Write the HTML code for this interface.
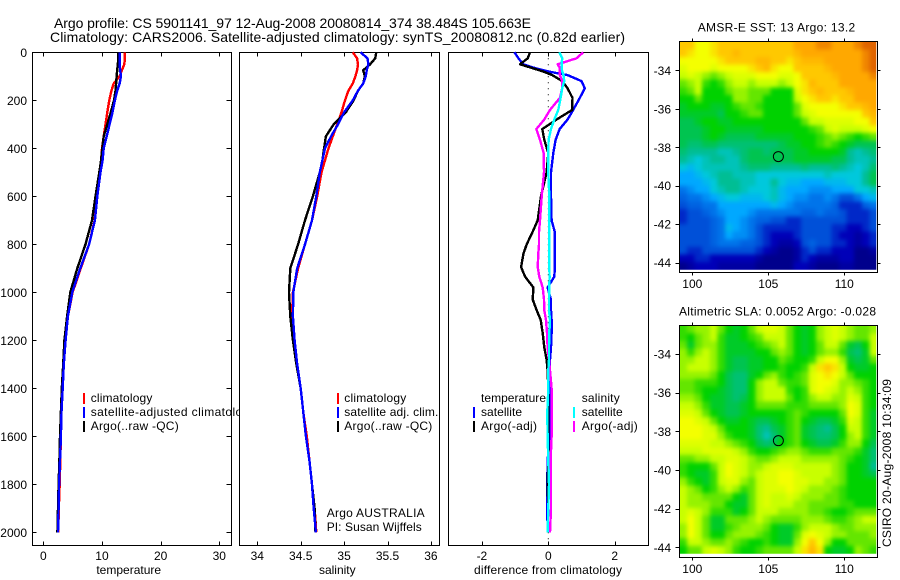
<!DOCTYPE html>
<html lang="en">
<head>
<meta charset="utf-8">
<title>Argo profile 5901141</title>
<style>
html,body{margin:0;padding:0;background:#fff;width:900px;height:580px;overflow:hidden}
svg{display:block}
text{font-family:"Liberation Sans",sans-serif;font-size:12px;fill:#000}
.ttl{font-size:14px}
</style>
</head>
<body>
<svg id="chart" xmlns="http://www.w3.org/2000/svg" width="900" height="580" viewBox="0 0 900 580">
  <defs>
    <filter id="soft1" filterUnits="userSpaceOnUse" x="655" y="20" width="245" height="275" color-interpolation-filters="sRGB"><feGaussianBlur stdDeviation="2"/></filter>
    <filter id="soft2" filterUnits="userSpaceOnUse" x="655" y="305" width="245" height="275" color-interpolation-filters="sRGB"><feGaussianBlur stdDeviation="2"/></filter>
    <clipPath id="clip1"><rect x="679.3" y="41.7" width="197" height="228"/></clipPath>
    <clipPath id="clip2"><rect x="679.3" y="325.7" width="197" height="228"/></clipPath>
  </defs>
  <rect x="0" y="0" width="900" height="580" fill="#fff"/>
  <text class="ttl" x="54" y="28" textLength="477" lengthAdjust="spacing">Argo profile: CS 5901141_97 12-Aug-2008 20080814_374 38.484S 105.663E</text>
  <text class="ttl" x="50" y="42" textLength="575" lengthAdjust="spacing">Climatology: CARS2006. Satellite-adjusted climatology: synTS_20080812.nc (0.82d earlier)</text>

  <g>
    <rect x="32.5" y="52.5" width="199" height="493" fill="#fff" stroke="#000" stroke-width="1"/>
    <g id="p1"></g>
    <g>
      <rect x="83" y="393" width="2" height="11" fill="#f00"/>
      <rect x="83" y="407" width="2" height="11" fill="#00f"/>
      <rect x="83" y="421" width="2" height="11" fill="#000"/>
      <text x="90.7" y="402" textLength="61.7">climatology</text>
      <text x="90.7" y="416" textLength="165">satellite-adjusted climatology</text>
      <text x="90.7" y="430" textLength="88">Argo(..raw -QC)</text>
    </g>
    <text x="128.7" y="574" text-anchor="middle">temperature</text>
  </g>

  <g>
    <rect x="239.5" y="52.5" width="200" height="493" fill="#fff" stroke="#000" stroke-width="1"/>
    <g id="p2"></g>
    <g>
      <rect x="337" y="393" width="2" height="11" fill="#f00"/>
      <rect x="337" y="407" width="2" height="11" fill="#00f"/>
      <rect x="337" y="421" width="2" height="11" fill="#000"/>
      <text x="344.3" y="402" textLength="62">climatology</text>
      <text x="344.3" y="416" textLength="94">satellite adj. clim.</text>
      <text x="344.3" y="430" textLength="88">Argo(..raw -QC)</text>
    </g>
    <text x="326.7" y="517" textLength="98">Argo AUSTRALIA</text>
    <text x="326.7" y="531" textLength="95">PI: Susan Wijffels</text>
    <text x="337.3" y="574" text-anchor="middle">salinity</text>
  </g>

  <g>
    <rect x="448.5" y="52.5" width="200" height="493" fill="#fff" stroke="#000" stroke-width="1"/>
    <g id="p3"></g>
    <g>
      <text x="481" y="402" textLength="65">temperature</text>
      <rect x="473" y="407" width="2" height="11" fill="#00f"/>
      <rect x="473" y="421" width="2" height="11" fill="#000"/>
      <text x="481" y="416" textLength="41">satellite</text>
      <text x="481" y="430" textLength="56">Argo(-adj)</text>
      <text x="581.7" y="402" textLength="38">salinity</text>
      <rect x="573" y="407" width="2" height="11" fill="#0ff"/>
      <rect x="573" y="421" width="2" height="11" fill="#f0f"/>
      <text x="581.7" y="416" textLength="41">satellite</text>
      <text x="581.7" y="430" textLength="56">Argo(-adj)</text>
    </g>
    <text x="548" y="574" text-anchor="middle" textLength="148">difference from climatology</text>
  </g>

  <g>
    <text x="697.7" y="31.5" textLength="157.5">AMSR-E SST: 13 Argo: 13.2</text>
    <g id="m1"></g>
  </g>
  <g>
    <text x="679" y="315.5" textLength="197">Altimetric SLA: 0.0052 Argo: -0.028</text>
    <g id="m2"></g>
  </g>
  <text transform="translate(891,547) rotate(-90)" x="0" y="0" textLength="168">CSIRO 20-Aug-2008 10:34:09</text>
</svg>

<script>
// ---------- profile data ----------
const depths = [0,25,50,75,100,130,160,200,250,300,350,400,450,500,600,700,800,900,1000,1100,1200,1300,1400,1500,1600,1700,1800,1900,2000];
const tempClimatology = [13.9,13.9,13.8,13.4,13.0,12.0,11.6,11.25,10.9,10.6,10.3,10.0,9.85,9.65,9.2,8.75,7.8,6.4,5.0,4.2,3.7,3.45,3.25,3.1,3.0,2.9,2.8,2.65,2.55];
const tempSatellite = [13.0,13.0,13.0,13.1,13.25,13.0,12.6,12.2,11.8,11.3,10.8,10.3,10.1,9.75,9.2,8.8,7.8,6.3,4.95,4.2,3.8,3.5,3.3,3.1,3.0,2.85,2.7,2.6,2.5];
const tempArgo = [12.8,12.8,12.7,12.6,12.5,12.4,12.3,12.05,11.5,10.9,10.3,10.05,9.85,9.55,8.9,8.3,7.2,5.8,4.6,4.05,3.6,3.4,3.15,3.0,2.85,2.75,2.6,2.5,2.4];
const salClimatology = [35.1,35.15,35.16,35.15,35.13,35.1,35.05,35.01,34.97,34.92,34.87,34.82,34.78,34.74,34.69,34.63,34.55,34.47,34.41,34.4,34.43,34.46,34.5,34.53,34.57,34.6,34.63,34.66,34.68];
const salSatellite = [35.19,35.27,35.28,35.26,35.25,35.22,35.16,35.1,35.0,34.93,34.85,34.78,34.75,34.72,34.68,34.63,34.55,34.46,34.415,34.41,34.43,34.46,34.5,34.53,34.56,34.6,34.63,34.65,34.675];
const salArgo = [35.37,35.36,35.3,35.22,35.24,35.22,35.16,35.11,35.02,34.88,34.79,34.77,34.75,34.72,34.64,34.55,34.47,34.38,34.365,34.38,34.41,34.45,34.5,34.53,34.56,34.6,34.63,34.66,34.67];

const diffDepths = [0,25,50,65,80,95,120,150,190,240,280,320,365,420,500,600,700,750,800,840,895,935,980,1030,1075,1115,1170,1230,1280,1325,1400,1500,1600,1700,1800,1900,2000];
const diffTempSatellite = [-1.02,-.9,-.75,-.42,0,.58,1.0,1.1,.95,.75,.58,.34,.22,.15,.08,.08,.1,.2,.2,.2,.2,.18,-.02,.08,.08,.1,.1,.08,.05,.05,.05,.07,.05,-.02,-.03,-.03,-.02];
const diffTempArgo = [-.55,-.62,-.85,-.5,-.15,.12,.42,.58,.73,.72,.25,-.18,-.12,0,-.05,-.22,-.32,-.48,-.65,-.75,-.82,-.7,-.45,-.47,-.35,-.23,-.17,-.12,-.05,-.02,0,0,0,0,-.02,0,-.02];
const diffSalArgo = [1.05,.85,.28,.35,.35,.35,.42,.42,.35,.05,-.12,-.36,-.25,-.14,-.13,-.2,-.25,-.28,-.28,-.3,-.32,-.27,-.17,-.13,-.12,-.07,-.04,-.02,.02,.05,.1,.1,.1,.07,.08,.08,.05];
const diffSalSatellite = [.33,.42,.4,.4,.42,.46,.48,.42,.37,.3,.18,.08,.01,0,0,.03,.03,.03,.03,.03,.03,.04,.03,.02,.02,.05,.03,.02,.02,0,0,-.03,-.02,0,.02,0,-.02];

// ---------- tick labels ----------
const depthTicks = [0,200,400,600,800,1000,1200,1400,1600,1800,2000];
const tempTicks = [0,10,20,30];
const salTicks = [34,34.5,35,35.5,36];
const diffTicks = [-2,0,2];
const lonTicks = [100,105,110];
const latTicks = [-34,-36,-38,-40,-42,-44];
const floatLon = 105.663;
const floatLat = -38.484;

// ---------- map colour level per grid cell (0 dark blue ... 14 dark orange) ----------
const colourStops = ['#00008c','#0000b8','#0050d8','#0074ea','#00a8ff','#00c8dc','#00be94','#00c450','#00d200','#64e600','#c8ff00','#f4ff00','#ffc800','#ffa800','#e06400'];
const sstGrid = [
[12,12,11,11,11.5,12,12,12,12,12,12,12,12,12,12,13,13,13,13.5,13.5,13,13,13,13.5,14,14],
[12,11.5,11,11,11.5,12,12,12.5,12,12,12,12,12,12,12,12.5,13,13,13,13,13,13,13,13,13.5,14],
[11,11,11,11,11,11.5,12,12,12,12,12.5,12.5,12,12,11.5,12,12.5,12.5,12.5,13,13,13,13,13,13.5,14],
[10.5,11,11,11,10.5,11,11,11,11,11.5,12,12.5,11.5,11,11,12,12,12,12,12.5,13,13,13,13,13.5,14],
[10,10.5,10,9.5,9,9.5,10,10.5,10.5,10.5,11,11,11,10.5,10.5,11,12,12,12,12,12.5,13,13,13,13,13.5],
[9,9.5,10,8.5,8,8.5,9.5,10,10,9.5,10,10,10,9.5,10,11,11.5,12.5,12,12,12,13,13,13,13,13],
[8.5,9,10,8,8,8,9,9.5,9.5,9,9,9,8,8,8,10.5,11.5,12,12.5,12,12,12,12.5,13,13,13],
[8,8,9,8,8,8,8,9.5,9.5,9,9,8,8,8,8,10,11,11.5,12,12,11.5,12,12,13,13,13],
[7.5,8,8,8,7.5,7.5,8,8.5,9,9,8.5,8,8,8,8,9,10.5,11,11,11,11,11.5,12,12,12.5,13],
[7.5,7.5,7.5,7.5,7.5,7,8,8,8.5,9,9,8,8,8,8,9,10,10.5,11,11,11,11,11,11,12,12.5],
[7,7,7.5,8,8,7.5,7.5,8,8,8,8,8,8,8,8,8,9,10,10,10.5,10.5,10.5,10.5,11,11,12],
[7,7,7,7.5,8,8,7.5,7.5,7.5,7.5,7.5,8,8,8,8,8,8,8.5,9,10,10.5,10,10,10,10.5,11],
[7,7,7,7.5,8,7.5,7,7,7,7,7.5,7.5,7.5,7.5,7.5,8,8,8,8.5,9,9.5,9,8.5,8,8.5,9],
[7,6.5,6.5,7,7,6.5,6.5,6.5,6.5,6.5,6.5,6.5,6.5,7,7.5,7.5,8,8,8.5,9,8.5,8,7.5,7,7,7],
[6.5,6,6,6,6,5.5,5.5,6,6.5,7,7,6.5,7,7,7,7.5,7.5,8,8,8,8,7.5,6,5.5,6,6.5],
[6,5.5,5,5.5,6,6,5.5,5.5,6.5,7,7,7,7,7,7,7.5,7.5,7.5,7.5,7.5,7,7,6,5.5,5.5,6],
[5,4.5,5,5.5,5.5,5.5,5.5,5.5,6,6.5,6.5,6.5,6,6,6,6,6.5,6,6,6,6.5,6,5.5,5,5.5,6.5],
[4,4,4.5,5,5.5,6,6,5.5,5.5,5.5,5,5,5,5,5,5,5,5,5,5.5,5,5,5,5,6,7],
[4,4,4,4.5,5,6,6,6,5.5,5.5,5,5,6,5,4.5,4.5,4,4,4,4.5,4.5,4.5,5,5,6,7],
[3,3.5,4,4,5,5.5,6,6,5.5,5,5,5,5.5,4.5,4,4,4,3.5,3.5,3.5,4,4,4,5,5,5.5],
[2.5,3,3,3.5,4,4.5,5,5,4.5,4.5,4.5,5,5.5,4.5,4,3.5,3.5,3,3,3.5,3,2,2,3,4,4.5],
[2,2.5,2.5,3,3,4,4,4,4,4,4,4,4.5,4,3.5,3,3,3,3,3,2.5,1.5,1.5,1.5,2.5,3],
[1.5,2,2,2.5,3,3.5,4,4,4,3.5,3,3,3,3,3,3,2.5,2.5,3,2.5,2.5,2,1.5,1.5,1.5,2],
[1.5,2,2,2,2.5,3,4,4,3.5,3,2.5,2.5,2,2,1.5,1.5,2,2,2,2,2,2,1.5,1.5,1.5,2],
[2,2,2,2,2.5,3,4.5,4,3.5,3,2,1.5,1.5,1.5,1.5,1.5,2,2,2,2,1.5,1.5,1,1,1.5,2],
[2,2,2,2,2.5,3,4,3.5,3.5,3,2,1.5,1,1,1,1.5,2,2,2,2,1.5,1,1,.5,1,1.5],
[2,2,2,2,2.5,3,3,3,2.5,2.5,2,1.5,1,.5,.5,1,2,2.5,2,2,1.5,1.5,1,.5,1,1.5],
[2,1.5,1.5,2,2,2,2,2,2,2,1.5,1,.5,0,0,.5,1.5,2,1.5,1.5,1,1,1,0,0,.5],
[1,1,1.5,1.5,1,1,1,1,1,1,.5,0,0,0,0,.5,1.5,1,.5,.5,.5,1,1,0,0,0],
[0,.5,1,1,1,.5,.5,.5,.5,.5,0,0,0,0,0,1,1,.5,0,0,0,.5,.5,0,0,0]
];
const slaGrid = [
[8.5,9,9.5,9.5,10,9,8,7.5,8,9,10,10.5,10.5,10,9,8,7.5,8,9.5,10,10.5,10,9.5,9,9,9.5],
[8.5,8,9,9.5,10,8.5,7.5,7.5,8,8.5,9,10,10,10,9,8,7.5,8,9.5,10,10.5,10,9.5,9,9,10],
[9,7.5,9,9.5,9.5,8.5,7.5,7.5,7.5,8,8.5,9,9.5,10,9,8,7.5,8,9,10,10,9,7.5,7,8,10],
[9.5,8.5,9.5,10,9.5,8.5,7.5,7.5,7.5,7.5,8,8,9,9.5,9,8,7.5,8,9,9.5,9.5,8.5,7,6.5,7.5,10],
[9.5,9.5,10,10,9.5,8.5,7.5,7,7,7.5,7.5,8,8,9,8.5,8,8,8.5,10,11,11,9.5,7.5,7,7.5,9],
[9.5,10,10,10,9.5,8.5,7.5,7,7,7.5,7.5,8,8,8.5,8,8,8.5,10,11.5,12,11.5,10,8,7.5,7.5,8],
[9.5,9.5,9.5,9.5,9,8,7,6.5,6.5,7.5,8,9,9.5,8.5,8,8.5,9,10.5,11,11.5,11,10,9,8,8,8],
[9,9,8.5,8.5,8.5,8,7,6.5,6.5,8,9.5,10,10,9,8.5,8.5,9,10.5,11,11,10.5,9.5,9.5,9,8.5,8],
[9,9,8.5,8,8,7.5,7,6.5,6.5,8,9.5,10,10,10,8.5,8,8.5,10.5,11,10.5,10,9.5,10,9.5,8.5,8],
[9.5,9.5,9,8,7.5,7.5,7,6.5,7,8,9.5,10,10,10,9,8,8.5,9.5,10,10,9.5,9.5,10.5,10,8.5,8],
[10,10,9.5,8.5,7.5,7.5,7,7,7.5,8,9,9,9,9,8.5,8.5,8.5,9,9,9,9,9.5,11,10.5,8.5,8],
[10.5,10.5,10,9,8,7.5,7,7,7.5,8,8,8,8,8,8.5,9,8.5,8,8,8,8,9,11,10.5,8.5,7.5],
[11,11,10.5,10,9,8,7.5,7.5,8,7.5,7,7,7.5,8,8.5,9,8,7.5,7,7,7.5,8.5,10.5,10,8.5,7.5],
[11,11,11,10.5,10,9,8,8,8,7.5,6.5,6,7,7.5,8.5,9,7.5,7,6.5,6,7,8,10,10,8.5,7.5],
[11,11,11,10.5,10.5,9.5,8.5,8,8,7.5,6.5,5.5,6.5,7.5,8.5,9,7.5,7,6.5,6.5,7,8,9.5,10,8.5,7.5],
[10.5,10.5,10.5,10.5,10,10,9.5,9,8.5,8,7,6.5,7,8,8.5,9,8,7.5,7,7,7.5,8.5,9.5,9.5,8,7],
[10,10,10,10.5,10.5,10.5,10.5,10,9.5,8.5,8,8,8.5,9,9.5,9.5,9,8.5,8.5,8.5,9,9,9,8.5,7.5,6.5],
[9,9,9.5,9.5,10,10,10.5,10.5,10,9.5,9,9,9.5,10,10,10,9.5,9.5,9.5,9.5,9.5,9,8.5,8,7.5,6.5],
[8.5,8,8,8,9,10,11,10.5,10,9.5,9.5,10,10.5,10.5,10.5,10,10,10,10,10,9.5,9,8,8,7.5,6],
[8.5,8,7.5,7.5,8.5,10,11,10.5,10,9.5,10,10.5,10.5,11,11,10.5,10,10,10,10,9.5,9,8,8,7.5,7],
[9.5,8.5,8,7.5,8.5,10,10.5,10.5,9.5,9,10,10.5,10.5,11,11,10.5,10.5,10,10,9.5,9.5,9,8,8,8,8],
[10,9.5,9,8,8.5,9.5,10,9.5,8.5,9,10,10.5,10.5,10.5,11,10.5,10,9.5,9.5,9.5,9,8.5,8,8,8,8],
[10,9.5,9.5,9,9,9,9,8,7.5,9,10,10.5,10,10,10.5,10,9.5,9.5,9.5,9,9,8.5,8,8,8,8],
[10,9.5,9.5,9.5,9,9,8,7.5,7.5,9,10,10.5,10,10,10,9.5,9.5,9,9,9,9,8.5,8.5,8,8,8],
[10,10.5,10,9.5,8.5,8.5,8.5,7.5,8,9,10,10,10,9.5,9.5,9.5,9.5,9,9,8.5,8,8,8.5,9,9,9],
[10,11,10,9,7.5,7.5,9,9,9,9.5,10,9.5,9,9,9,9,9.5,9.5,9.5,9,8.5,8.5,9,9.5,10,10],
[9.5,11,10,9,7.5,7.5,8.5,9,9.5,9.5,9.5,9,8,7.5,7.5,8.5,9.5,10,10,10,9.5,9,9,9.5,9.5,9.5],
[9.5,11,10,9,8,8,9,9.5,9.5,9.5,9,8.5,8,7.5,7.5,9,10.5,11,10.5,10,9.5,9.5,9,9,9,9.5],
[8.5,10,10,9.5,9,9,9.5,9,8.5,8,8,8.5,8,7.5,7.5,9.5,11,12,11,9.5,8,8,9,9,9,9],
[8,9,9,10,10.5,10,9.5,8.5,8,8,8.5,9,9,9,9,10,11.5,12.5,11.5,8,7.5,7.5,8,9.5,9,8.5]
];

// ---------- helpers ----------
const NS = 'http://www.w3.org/2000/svg';
function mk(parent, tag, props, txt) {
  const el = document.createElementNS(NS, tag);
  for (const k in props) el.setAttribute(k, props[k]);
  if (txt !== undefined) el.textContent = txt;
  parent.appendChild(el);
  return el;
}
function depthY(d) { return 52.3 + 0.24 * d; }
function tempX(v) { return 43.3 + 5.867 * v; }
function salX(v) { return 257.3 + 86.8 * (v - 34); }
function diffX(v) { return 548.3 + 33.2 * v; }

function drawProfile(parent, name, xs, ds, scale, colour) {
  const pts = xs.map((v, i) => scale(v).toFixed(1) + ',' + depthY(ds[i]).toFixed(1)).join(' ');
  const el = mk(parent, 'polyline', {points: pts, fill: 'none', stroke: colour, 'stroke-width': 2.4, 'shape-rendering': 'crispEdges', 'stroke-linejoin': 'round'});
  
  
}
function drawXTicks(parent, ticks, scale, top, bottom) {
  ticks.forEach(t => {
    const x = Math.round(scale(t)) + 0.5;
    const a = mk(parent, 'line', {x1: x, x2: x, y1: top, y2: top + 4, stroke: '#000'});
    
    
    const b = mk(parent, 'line', {x1: x, x2: x, y1: bottom - 4, y2: bottom, stroke: '#000'});
    
    
    const l = mk(parent, 'text', {x: scale(t), y: 560, 'text-anchor': 'middle'}, String(t));
    
    
  });
}

// ---------- temperature panel ----------
const p1 = document.getElementById('p1');
depthTicks.forEach(d => {
  const y = Math.round(depthY(d)) + 0.5;
  const a = mk(p1, 'line', {x1: 32.5, x2: 36.5, y1: y, y2: y, stroke: '#000'});
  
  
  const b = mk(p1, 'line', {x1: 226.5, x2: 231.5, y1: y, y2: y, stroke: '#000'});
  
  
  const l = mk(p1, 'text', {x: 27, y: depthY(d) + 4.5, 'text-anchor': 'end'}, String(d));
  
  
});
drawXTicks(p1, tempTicks, tempX, 52.5, 545.5);
drawProfile(p1, 'temperature-climatology-line', tempClimatology, depths, tempX, '#f00');
drawProfile(p1, 'temperature-argo-line', tempArgo, depths, tempX, '#000');
drawProfile(p1, 'temperature-satellite-line', tempSatellite, depths, tempX, '#00f');

// ---------- salinity panel ----------
const p2 = document.getElementById('p2');
drawXTicks(p2, salTicks, salX, 52.5, 545.5);
drawProfile(p2, 'salinity-climatology-line', salClimatology, depths, salX, '#f00');
drawProfile(p2, 'salinity-argo-line', salArgo, depths, salX, '#000');
drawProfile(p2, 'salinity-satellite-line', salSatellite, depths, salX, '#00f');

// ---------- difference panel ----------
const p3 = document.getElementById('p3');
drawXTicks(p3, diffTicks, diffX, 52.5, 545.5);
const zeroLine = mk(p3, 'line', {x1: diffX(0), x2: diffX(0), y1: depthY(0), y2: 540, stroke: '#000', 'stroke-dasharray': '1 5'});


drawProfile(p3, 'temperature-satellite-difference-line', diffTempSatellite, diffDepths, diffX, '#00f');
drawProfile(p3, 'temperature-argo-difference-line', diffTempArgo, diffDepths, diffX, '#000');
drawProfile(p3, 'salinity-argo-difference-line', diffSalArgo, diffDepths, diffX, '#f0f');
drawProfile(p3, 'salinity-satellite-difference-line', diffSalSatellite, diffDepths, diffX, '#0ff');

// ---------- maps ----------
function levelColour(v) {
  const c = Math.max(0, Math.min(colourStops.length - 1, v));
  const i = Math.min(colourStops.length - 2, Math.floor(c));
  const f = c - i;
  const p = h => [1, 3, 5].map(k => parseInt(h.substr(k, 2), 16));
  const a = p(colourStops[i]), b = p(colourStops[i + 1]);
  return 'rgb(' + a.map((n, k) => Math.round(n + (b[k] - n) * f)).join(',') + ')';
}
function drawMap(parent, grid, opt) {
  const lonX = lon => 692.3 + 15.2 * (lon - 100);
  const latY = lat => opt.y34 + opt.pxPerDeg * (-34 - lat);
  const lonStart = 99.15, lonStep = 0.5;
  const latStep = 7.6 / opt.pxPerDeg;
  const latStart = -34 + (opt.y34 - opt.top) / opt.pxPerDeg;
  const clipped = mk(parent, 'g', {'clip-path': 'url(#' + opt.clip + ')'});
  
  
  const soft = mk(clipped, 'g', {filter: 'url(#' + opt.soft + ')'});
  
  
  const pad = 10;
  grid.forEach((row, j) => {
    row.forEach((v, i) => {
      let x0 = lonX(lonStart + i * lonStep), y0 = latY(latStart - j * latStep);
      let w = 7.7, h = 7.7;
      if (i === 0) { x0 -= pad; w += pad; }
      if (i === row.length - 1) { w += pad; }
      if (j === 0) { y0 -= pad; h += pad; }
      if (j === grid.length - 1) { h += pad; }
      const cell = mk(soft, 'rect', {x: x0.toFixed(2), y: y0.toFixed(2), width: w, height: h, fill: levelColour(v), 'shape-rendering': 'crispEdges'});
      
      
    });
  });
  const frame = mk(parent, 'rect', {x: 679.5, y: opt.top - 0.2, width: 198, height: opt.boxH, fill: 'none', stroke: '#000'});
  
  
  const boxTop = opt.top - 0.2, boxBottom = boxTop + opt.boxH;
  lonTicks.forEach(t => {
    const x = Math.round(lonX(t)) + 0.5;
    const a = mk(parent, 'line', {x1: x, x2: x, y1: boxTop - 3, y2: boxTop, stroke: '#000'});
    
    
    const b = mk(parent, 'line', {x1: x, x2: x, y1: boxBottom, y2: boxBottom + 3, stroke: '#000'});
    
    
    const l = mk(parent, 'text', {x: lonX(t), y: boxBottom + 15.5, 'text-anchor': 'middle'}, String(t));
    
    
  });
  latTicks.forEach(t => {
    const y = Math.round(latY(t)) + 0.5;
    const a = mk(parent, 'line', {x1: 675.5, x2: 679.5, y1: y, y2: y, stroke: '#000'});
    
    
    const b = mk(parent, 'line', {x1: 877.5, x2: 880.5, y1: y, y2: y, stroke: '#000'});
    
    
    const l = mk(parent, 'text', {x: 671, y: latY(t) + 4.5, 'text-anchor': 'end'}, String(t));
    
    
  });
  const marker = mk(parent, 'circle', {cx: lonX(floatLon), cy: latY(floatLat), r: 5, fill: 'none', stroke: '#000'});
  
  
}
drawMap(document.getElementById('m1'), sstGrid, {top: 41.7, boxH: 231, y34: 70.3, pxPerDeg: 19.24, clip: 'clip1', soft: 'soft1'});
drawMap(document.getElementById('m2'), slaGrid, {top: 325.7, boxH: 232, y34: 354, pxPerDeg: 19.33, clip: 'clip2', soft: 'soft2'});
</script>
</body>
</html>
